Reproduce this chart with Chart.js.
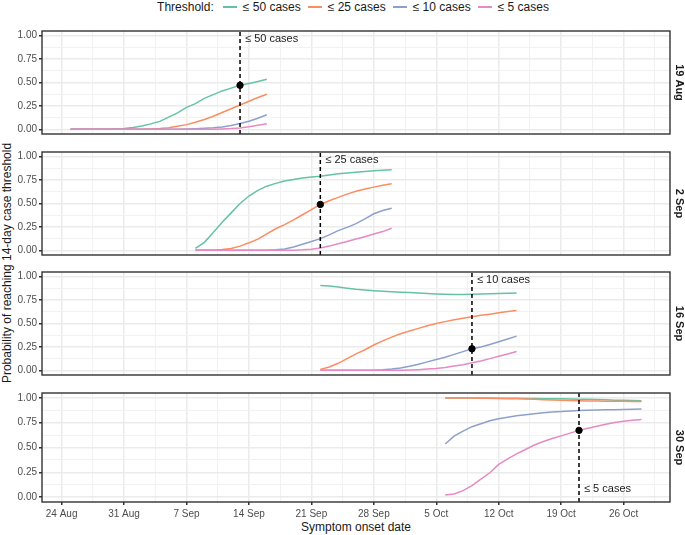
<!DOCTYPE html>
<html>
<head>
<meta charset="utf-8">
<script src="https://cdn.jsdelivr.net/npm/chart.js@4.4.1/dist/chart.umd.min.js"></script>
<style>
body { margin: 0; background: #fff; font-family: "Liberation Sans", Arial, sans-serif; }
#wrap { position: relative; width: 685px; height: 535px; overflow: hidden; }
canvas { position: absolute; left: 0; }
#legend { position: absolute; left: 42px; width: 628px; top: 0; height: 14px; display: flex; justify-content: center; align-items: center; font-size: 12px; color: #1a1a1a; white-space: nowrap; }
#legend .title { margin-right: 8px; }
#legend .key { width: 17px; height: 14px; position: relative; }
#legend .key i { position: absolute; left: 1.5px; right: 1.5px; top: 6px; height: 1.5px; }
#legend .lab { margin-left: 4px; margin-right: 6px; }
#ytitle { position: absolute; left: 7px; top: 263px; transform: translate(-50%, -50%) rotate(-90deg); font-size: 12px; color: #1a1a1a; white-space: nowrap; }
#xtitle { position: absolute; left: 356px; top: 527px; transform: translate(-50%, -50%); font-size: 12px; color: #1a1a1a; white-space: nowrap; }
</style>
</head>
<body>
<div id="wrap">
  <div id="legend"></div>
  <div id="ytitle">Probability of reaching 14-day case threshold</div>
  <div id="xtitle">Symptom onset date</div>
</div>
<script>
// x values are days after 24 Aug
const xTickLabels = ['24 Aug', '31 Aug', '7 Sep', '14 Sep', '21 Sep', '28 Sep', '5 Oct', '12 Oct', '19 Oct', '26 Oct'];
const xTickDays = [0, 7, 14, 21, 28, 35, 42, 49, 56, 63];
const panelLabels = ['19 Aug', '2 Sep', '16 Sep', '30 Sep'];
const seriesLabels = ['≤ 50 cases', '≤ 25 cases', '≤ 10 cases', '≤ 5 cases'];
const firstDay = [1, 15, 29, 43];
const crossDay = [20, 29, 46, 58];

const aug19_50 = [0, 0, 0, 0, 0.002, 0.005, 0.01, 0.02, 0.035, 0.058, 0.085, 0.13, 0.175, 0.235, 0.275, 0.33, 0.37, 0.41, 0.44, 0.47, 0.49, 0.51, 0.535];
const aug19_25 = [0, 0, 0, 0, 0, 0, 0, 0, 0, 0.003, 0.008, 0.018, 0.033, 0.05, 0.075, 0.105, 0.14, 0.18, 0.22, 0.26, 0.3, 0.34, 0.375];
const aug19_10 = [0, 0, 0, 0, 0, 0, 0, 0, 0, 0, 0, 0, 0.002, 0.004, 0.007, 0.011, 0.017, 0.026, 0.04, 0.062, 0.087, 0.118, 0.155];
const aug19_5 = [0, 0, 0, 0, 0, 0, 0, 0, 0, 0, 0, 0, 0, 0, 0, 0, 0.002, 0.004, 0.008, 0.015, 0.027, 0.043, 0.06];

const sep2_50 = [0.02, 0.085, 0.19, 0.3, 0.4, 0.5, 0.58, 0.64, 0.685, 0.715, 0.74, 0.757, 0.772, 0.783, 0.792, 0.805, 0.817, 0.827, 0.835, 0.842, 0.849, 0.855, 0.86];
const sep2_25 = [0, 0, 0.002, 0.008, 0.02, 0.045, 0.08, 0.12, 0.175, 0.23, 0.275, 0.325, 0.38, 0.435, 0.49, 0.53, 0.565, 0.6, 0.63, 0.655, 0.675, 0.695, 0.71];
const sep2_10 = [0, 0, 0, 0, 0, 0, 0, 0, 0.002, 0.006, 0.015, 0.035, 0.065, 0.095, 0.125, 0.165, 0.21, 0.245, 0.285, 0.335, 0.39, 0.425, 0.45];
const sep2_5 = [0, 0, 0, 0, 0, 0, 0, 0, 0, 0, 0, 0.002, 0.005, 0.012, 0.025, 0.045, 0.07, 0.095, 0.12, 0.145, 0.175, 0.2, 0.235];

const sep16_50 = [0.905, 0.9, 0.89, 0.877, 0.865, 0.857, 0.85, 0.845, 0.84, 0.835, 0.83, 0.825, 0.82, 0.816, 0.813, 0.811, 0.811, 0.813, 0.816, 0.819, 0.821, 0.823, 0.825];
const sep16_25 = [0.01, 0.035, 0.075, 0.125, 0.175, 0.22, 0.27, 0.315, 0.355, 0.39, 0.42, 0.448, 0.475, 0.5, 0.52, 0.54, 0.557, 0.572, 0.587, 0.6, 0.615, 0.628, 0.64];
const sep16_10 = [0, 0, 0, 0, 0, 0, 0.002, 0.006, 0.014, 0.026, 0.043, 0.065, 0.09, 0.115, 0.14, 0.17, 0.2, 0.23, 0.25, 0.275, 0.305, 0.335, 0.365];
const sep16_5 = [0, 0, 0, 0, 0, 0, 0, 0, 0, 0, 0.003, 0.007, 0.013, 0.02, 0.03, 0.045, 0.06, 0.08, 0.1, 0.125, 0.15, 0.175, 0.2];

const sep30_50 = [1, 1, 1, 1, 1, 0.999, 0.998, 0.997, 0.996, 0.995, 0.994, 0.993, 0.992, 0.991, 0.99, 0.988, 0.986, 0.984, 0.981, 0.978, 0.976, 0.974, 0.973];
const sep30_25 = [1, 1, 1, 0.999, 0.998, 0.997, 0.995, 0.993, 0.991, 0.989, 0.986, 0.983, 0.98, 0.977, 0.974, 0.972, 0.97, 0.969, 0.968, 0.967, 0.966, 0.965, 0.964];
const sep30_10 = [0.535, 0.615, 0.665, 0.71, 0.74, 0.77, 0.79, 0.805, 0.82, 0.83, 0.84, 0.85, 0.858, 0.864, 0.869, 0.873, 0.876, 0.878, 0.88, 0.882, 0.884, 0.886, 0.888];
const sep30_5 = [0.02, 0.03, 0.065, 0.115, 0.18, 0.245, 0.33, 0.385, 0.435, 0.48, 0.525, 0.56, 0.59, 0.617, 0.645, 0.673, 0.695, 0.715, 0.735, 0.752, 0.765, 0.775, 0.782];

const panelSeries = [
  [aug19_50, aug19_25, aug19_10, aug19_5],
  [sep2_50, sep2_25, sep2_10, sep2_5],
  [sep16_50, sep16_25, sep16_10, sep16_5],
  [sep30_50, sep30_25, sep30_10, sep30_5]
];
const colors = ['#66C2A5', '#FC8D62', '#8DA0CB', '#E78AC3'];

const panelTops = [25, 145.5, 266, 387];
const panelH = 115;
const xMin = -2.2, xMax = 68.2;

Chart.defaults.font.family = '"Liberation Sans", Arial, sans-serif';

// legend
const legend = document.getElementById('legend');
let html = '<span class="title">Threshold:</span>';
seriesLabels.forEach((s, k) => {
  html += `<span class="key"><i style="background:${colors[k]}"></i></span><span class="lab">${s}</span>`;
});
legend.innerHTML = html;

const xGrid = [];
for (let d = -3.5; d <= xMax; d += 3.5) if (d >= xMin) xGrid.push(d);
const yGrid = [0, 0.125, 0.25, 0.375, 0.5, 0.625, 0.75, 0.875, 1];
const isMajorX = v => xTickDays.includes(v);
const isMajorY = v => Math.abs(v * 4 - Math.round(v * 4)) < 1e-6;

const panelDecor = {
  id: 'panelDecor',
  afterDraw(chart, args, opts) {
    const { ctx, chartArea: a } = chart;
    ctx.save();
    // threshold label beside dashed line
    const lx = chart.scales.x.getPixelForValue(opts.cross) + 5;
    ctx.fillStyle = '#1a1a1a';
    ctx.font = '11px "Liberation Sans", Arial, sans-serif';
    ctx.textAlign = 'left';
    ctx.textBaseline = 'middle';
    ctx.fillText(opts.label, lx, opts.bottom ? a.bottom - 13 : a.top + 8);
    // panel border
    ctx.strokeStyle = '#333333';
    ctx.lineWidth = 1.4;
    ctx.strokeRect(a.left, a.top, a.right - a.left, a.bottom - a.top);
    // strip label
    ctx.translate(679, (a.top + a.bottom) / 2);
    ctx.rotate(Math.PI / 2);
    ctx.font = 'bold 11px "Liberation Sans", Arial, sans-serif';
    ctx.textAlign = 'center';
    ctx.fillText(opts.strip, 0, 0);
    ctx.restore();
  }
};

const wrap = document.getElementById('wrap');

panelSeries.forEach((series, i) => {
  const last = i === 3;
  const top = panelTops[i] - 2;
  const h = last ? 535 - top : panelH + 4;
  const canvas = document.createElement('canvas');
  canvas.width = 685;
  canvas.height = h;
  canvas.style.top = top + 'px';
  wrap.appendChild(canvas);

  const datasets = series.map((vals, k) => ({
    type: 'line',
    label: seriesLabels[k],
    data: vals.map((v, j) => ({ x: firstDay[i] + j, y: v })),
    borderColor: colors[k],
    borderWidth: 1.5,
    pointRadius: 0,
    tension: 0,
    order: 10 - k
  }));
  datasets.push({
    type: 'line',
    data: [{ x: crossDay[i], y: -0.05 }, { x: crossDay[i], y: 1.05 }],
    borderColor: '#000',
    borderWidth: 1.5,
    borderDash: [4, 3],
    pointRadius: 0,
    order: 1
  });
  datasets.push({
    type: 'scatter',
    data: [{ x: crossDay[i], y: series[i][crossDay[i] - firstDay[i]] }],
    backgroundColor: '#000',
    borderColor: '#000',
    pointRadius: 3.2,
    order: 0
  });

  new Chart(canvas.getContext('2d'), {
    type: 'line',
    data: { datasets },
    options: {
      responsive: false,
      animation: false,
      events: [],
      layout: { padding: { left: 0, right: 15, top: 2, bottom: last ? 0 : 2 } },
      plugins: {
        legend: { display: false },
        tooltip: { enabled: false },
        panelDecor: { label: seriesLabels[i], strip: panelLabels[i], cross: crossDay[i], bottom: last }
      },
      scales: {
        x: {
          type: 'linear',
          min: xMin,
          max: xMax,
          afterBuildTicks: s => { s.ticks = xGrid.map(v => ({ value: v })); },
          afterFit: s => { s.height = last ? 33 : 0; },
          border: { display: false },
          grid: {
            color: c => isMajorX(c.tick.value) ? '#ebebeb' : '#f2f2f2',
            lineWidth: c => isMajorX(c.tick.value) ? 1.5 : 1,
            drawTicks: last,
            tickLength: 3,
            tickColor: c => isMajorX(c.tick.value) ? '#333333' : 'rgba(0,0,0,0)'
          },
          ticks: {
            display: last,
            autoSkip: false,
            maxRotation: 0,
            padding: 3,
            color: '#4d4d4d',
            font: { size: 10 },
            callback: v => { const k = xTickDays.indexOf(v); return k >= 0 ? xTickLabels[k] : ''; }
          }
        },
        y: {
          min: -0.05,
          max: 1.05,
          afterBuildTicks: s => { s.ticks = yGrid.map(v => ({ value: v })); },
          afterFit: s => { s.width = 42; },
          border: { display: false },
          grid: {
            color: c => isMajorY(c.tick.value) ? '#ebebeb' : '#f2f2f2',
            lineWidth: c => isMajorY(c.tick.value) ? 1.5 : 1,
            tickLength: 3,
            tickColor: c => isMajorY(c.tick.value) ? '#333333' : 'rgba(0,0,0,0)'
          },
          ticks: {
            autoSkip: false,
            padding: 2,
            color: '#4d4d4d',
            font: { size: 10 },
            callback: v => isMajorY(v) ? v.toFixed(2) : ''
          }
        }
      }
    },
    plugins: [panelDecor]
  });
});
</script>
</body>
</html>
